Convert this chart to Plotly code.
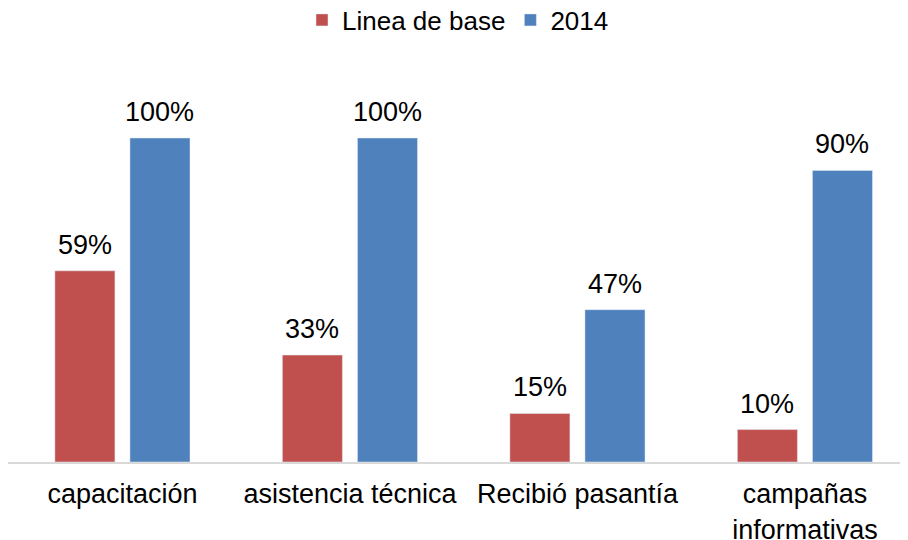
import plotly.graph_objects as go

categories = ["capacitación", "asistencia técnica", "Recibió pasantía", "campañas<br>informativas"]
linea_base = [0.59, 0.33, 0.15, 0.10]
v2014 = [1.00, 1.00, 0.47, 0.90]
labels_base = ["59%", "33%", "15%", "10%"]
labels_2014 = ["100%", "100%", "47%", "90%"]

font = dict(family="Liberation Sans, Arial, sans-serif", size=27, color="#000000")
legend_font = dict(family="Liberation Sans, Arial, sans-serif", size=26, color="#000000")

W, H = 900, 532

fig = go.Figure()
fig.add_trace(go.Bar(x=categories, y=linea_base, name="Linea de base", marker_color="#C0504D"))
fig.add_trace(go.Bar(x=categories, y=v2014, name="2014", marker_color="#4F81BD"))

for vals, labs, shift in [(linea_base, labels_base, -37.5), (v2014, labels_2014, 37.5)]:
    for c, v, t in zip(categories, vals, labs):
        fig.add_annotation(x=c, y=v, text=t, showarrow=False, xref="x", yref="y",
                           xshift=shift, yanchor="bottom", yshift=9, font=font)

fig.update_layout(
    width=W, height=H,
    margin=dict(l=0, r=0, t=52, b=78, autoexpand=False),
    paper_bgcolor="white", plot_bgcolor="white",
    barmode="group", bargap=0.34, bargroupgap=0.2,
    font=font,
    legend=dict(orientation="h", x=0.5, xanchor="center", y=1 - 12 / H, yanchor="middle",
                yref="container", font=legend_font),
    xaxis=dict(range=[-0.503, 3.453], showline=True, linecolor="#D9D9D9", linewidth=2,
               tickfont=font, showgrid=False, ticks="outside", ticklen=7,
               tickcolor="rgba(0,0,0,0)", automargin=False),
    yaxis=dict(range=[0, 1.2407], visible=False, showgrid=False, automargin=False),
)

fig.write_html("out.html")
